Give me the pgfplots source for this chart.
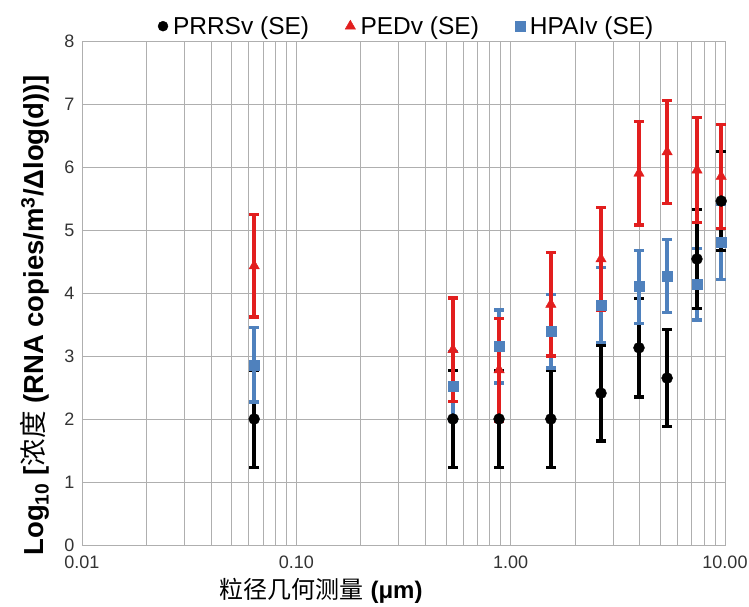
\documentclass[border=0pt]{standalone}
\usepackage{pgfplots}
\pgfplotsset{compat=1.18}
\usepackage{pgfplotstable}
\usepackage{fontspec}
\setmainfont{Liberation Sans}
\newfontfamily\cjk{Noto Sans CJK SC}
\definecolor{myred}{RGB}{226,30,30}
\definecolor{myblue}{RGB}{79,129,189}
\definecolor{gridc}{RGB}{175,175,175}

\pgfplotstableread{
x y e
0.0636 2.00 0.77
0.538 2.00 0.77
0.883 2.00 0.77
1.54 2.00 0.77
2.64 2.41 0.76
3.97 3.13 0.78
5.37 2.65 0.77
}\prrsA
\pgfplotstableread{
x y e
7.4 4.54 0.78
9.6 5.46 0.78
}\prrsB
\pgfplotstableread{
x y e
0.0636 2.86 0.59
0.538 2.52 0.55
0.883 3.15 0.58
1.54 3.39 0.58
2.64 3.81 0.59
3.97 4.10 0.58
5.37 4.27 0.58
7.4 4.14 0.57
9.6 4.81 0.59
}\hpai
\pgfplotstableread{
x y e
0.0636 4.43 0.81
0.538 3.10 0.82
0.883 2.78 0.82
1.54 3.82 0.82
2.64 4.54 0.82
3.97 5.90 0.82
5.37 6.24 0.82
7.4 5.95 0.83
9.6 5.85 0.82
}\pedv

\begin{document}
\begin{tikzpicture}
\useasboundingbox (-82pt,-62pt) rectangle (667pt,545pt);
\begin{axis}[
  at={(0,0)}, anchor=south west,
  scale only axis, width=643pt, height=504pt,
  xmode=log, xmin=0.01, xmax=10, ymin=0, ymax=8,
  xtick={0.01,0.1,1,10}, xticklabels={0.01,0.10,1.00,10.00},
  minor xtick={0.02,0.03,0.04,0.05,0.06,0.07,0.08,0.09,0.2,0.3,0.4,0.5,0.6,0.7,0.8,0.9,2,3,4,5,6,7,8,9},
  ytick={0,1,2,3,4,5,6,7,8},
  /pgf/number format/assume math mode=true,
  xmajorgrids=true, xminorgrids=true, ymajorgrids=true,
  major grid style={draw=gridc, line width=0.8pt},
  minor grid style={draw=gridc, line width=0.8pt},
  axis line style={draw=gridc, line width=0.8pt},
  major tick length=0pt, minor tick length=0pt,
  tick label style={font=\fontsize{18}{20}\selectfont, text=black!80},
  xticklabel style={yshift=-7pt},
  yticklabel style={xshift=-4pt},
  xlabel={{\cjk 粒径几何测量} \textbf{(μm)}},
  x label style={at={(axis description cs:0.372,0)}, anchor=north, yshift=-30pt, font=\fontsize{24}{26}\selectfont},
  ylabel={\textbf{Log\textsubscript{10} [}{\cjk 浓度}\textbf{ (RNA copies/m\textsuperscript{3}/Δlog(d))]}},
  y label style={at={(axis description cs:-0.073,0.456)}, anchor=center, rotate=0, font=\fontsize{27.5}{29}\selectfont},
  legend style={draw=none, fill=none, font=\fontsize{24.5}{28}\selectfont,
    at={(0.505,1)}, anchor=south, yshift=1pt,
    /tikz/every even column/.append style={column sep=34pt}},
  legend columns=3, legend cell align=left,
  clip=false,
]
\addplot[forget plot, only marks, mark=*, mark size=5.5pt, draw=black, fill=black,
  error bars/.cd, y dir=both, y explicit,
  error bar style={line width=3.6pt, black},
  error mark options={rotate=90, mark size=5pt, line width=3.2pt, black}]
  table[x=x, y=y, y error=e] {\prrsA};
\addplot[forget plot, only marks, mark=square*, mark size=5pt, draw=myblue, fill=myblue,
  error bars/.cd, y dir=both, y explicit,
  error bar style={line width=3.6pt, myblue},
  error mark options={rotate=90, mark size=5pt, line width=3.2pt, myblue}]
  table[x=x, y=y, y error=e] {\hpai};
\addplot[forget plot, only marks, mark=*, mark size=5.5pt, draw=black, fill=black,
  error bars/.cd, y dir=both, y explicit,
  error bar style={line width=3.6pt, black},
  error mark options={rotate=90, mark size=5pt, line width=3.2pt, black}]
  table[x=x, y=y, y error=e] {\prrsB};
\addplot[forget plot, only marks, mark=triangle*, mark size=6pt, draw=myred, fill=myred,
  error bars/.cd, y dir=both, y explicit,
  error bar style={line width=3.6pt, myred},
  error mark options={rotate=90, mark size=5pt, line width=3.2pt, myred}]
  table[x=x, y=y, y error=e] {\pedv};
\addlegendimage{only marks, mark=*, mark size=5pt, draw=black, fill=black}
\addlegendentry{\hspace{3pt}PRRSv (SE)}
\addlegendimage{only marks, mark=triangle*, mark size=6pt, draw=myred, fill=myred}
\addlegendentry{\hspace{3pt}PEDv (SE)}
\addlegendimage{only marks, mark=square*, mark size=5pt, draw=myblue, fill=myblue}
\addlegendentry{\hspace{3pt}HPAIv (SE)}
\end{axis}
\end{tikzpicture}
\end{document}
